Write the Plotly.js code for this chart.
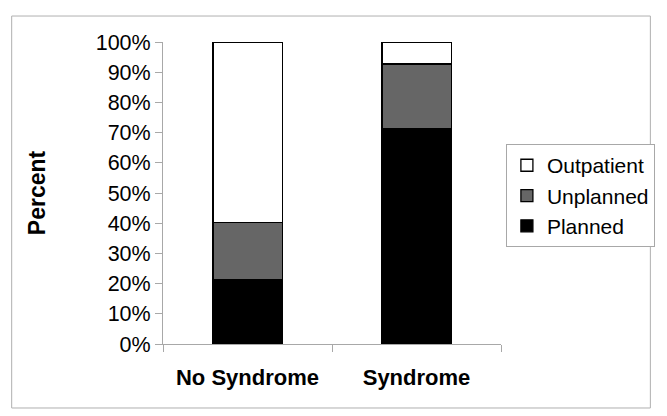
<!DOCTYPE html>
<html>
<head>
<meta charset="utf-8">
<script src="https://cdn.plot.ly/plotly-3.0.1.min.js"></script>
<style>html,body{margin:0;padding:0;background:#fff;}#chart{width:667px;height:416px;}</style>
</head>
<body>
<div id="chart"></div>
<script>
const categories = ["No Syndrome", "Syndrome"];
const planned = [21.2, 71.4];
const unplanned = [19.1, 21.3];
const outpatient = [59.7, 7.3];
const seriesNames = ["Planned", "Unplanned", "Outpatient"];
const seriesColors = ["#000000", "#666666", "#ffffff"];
const yTickVals = [0, 10, 20, 30, 40, 50, 60, 70, 80, 90, 100];

const font = "Liberation Sans, Arial, sans-serif";
const series = [planned, unplanned, outpatient];
const traces = series.map((vals, i) => ({
  type: "bar",
  name: seriesNames[i],
  x: categories,
  y: vals,
  width: 0.41,
  marker: {color: seriesColors[i], line: {color: "#000000", width: 1.3}},
  hoverinfo: "skip"
}));

const layout = {
  width: 667, height: 416,
  margin: {l: 163, r: 160, t: 42, b: 72, pad: 0},
  paper_bgcolor: "#ffffff",
  plot_bgcolor: "#ffffff",
  barmode: "stack",
  font: {family: font, color: "#000000", size: 20},
  showlegend: true,
  legend: {
    x: 1.0145, xanchor: "left", y: 0.662, yanchor: "top",
    traceorder: "reversed",
    bordercolor: "#a8a8a8", borderwidth: 1, bgcolor: "#ffffff",
    font: {family: font, size: 21, color: "#000000"},
    itemwidth: 30
  },
  xaxis: {
    type: "category",
    range: [-0.5, 1.5],
    showline: true, linecolor: "#a8a8a8", linewidth: 1,
    ticks: "outside", tickson: "boundaries", ticklen: 7, tickcolor: "#a8a8a8", tickwidth: 1,
    ticklabelstandoff: 14,
    tickfont: {family: font, size: 22, weight: 700, color: "#000000"},
    showgrid: false, zeroline: false, fixedrange: true
  },
  yaxis: {
    range: [0, 100],
    tickvals: yTickVals,
    ticktext: yTickVals.map(v => v + "%"),
    showline: true, linecolor: "#a8a8a8", linewidth: 1,
    ticks: "outside", ticklen: 7, tickcolor: "#a8a8a8", tickwidth: 1,
    tickfont: {family: font, size: 21.5, color: "#000000"},
    showgrid: false, zeroline: false, fixedrange: true,
    title: {text: "Percent", font: {family: font, size: 23, weight: 700, color: "#000000"}, standoff: 43}
  },
  shapes: [{
    type: "rect", xref: "paper", yref: "paper",
    x0: -0.4477, x1: 1.4419, y0: -0.2119, y1: 1.086,
    line: {color: "#b0b0b0", width: 1}, fillcolor: "rgba(0,0,0,0)", layer: "below"
  }]
};

Plotly.newPlot("chart", traces, layout, {displayModeBar: false, staticPlot: true});
</script>
</body>
</html>
